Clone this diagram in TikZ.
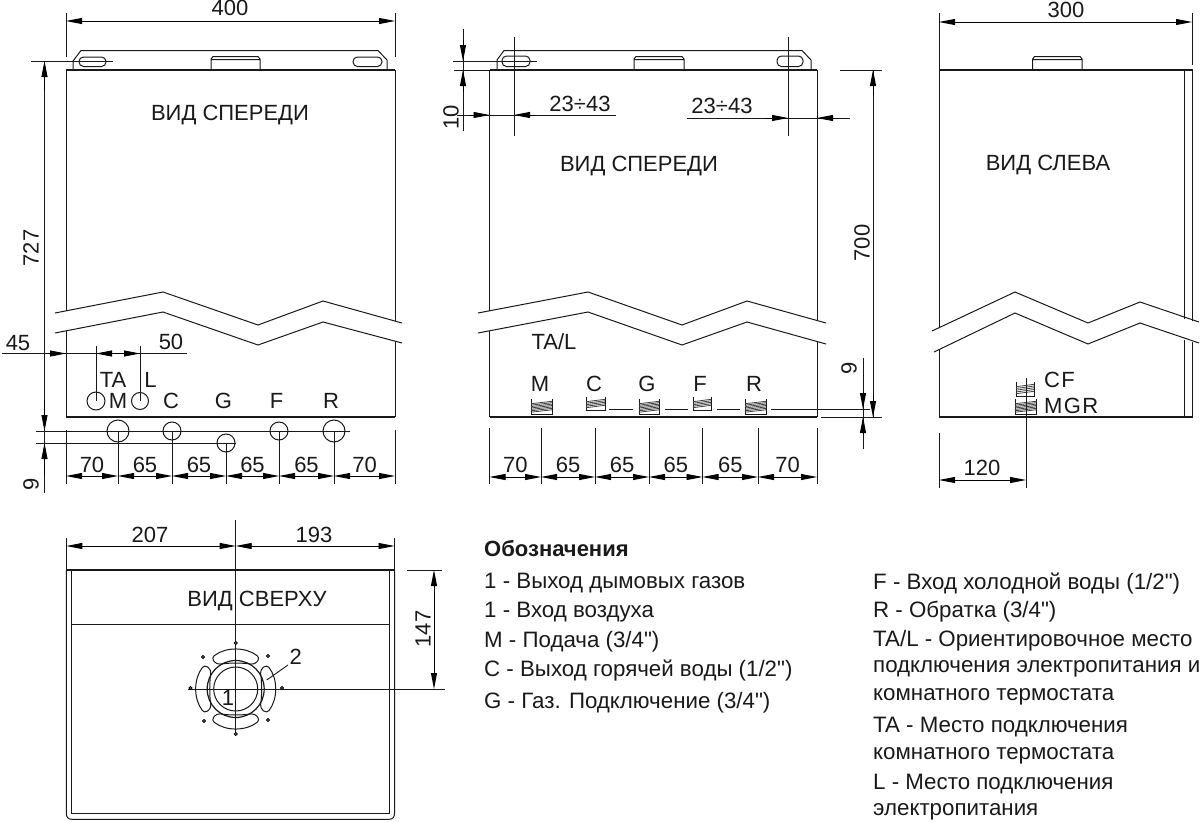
\documentclass[tikz,border=0pt]{standalone}
\usepackage{fontspec}
\setmainfont[Ligatures=TeXOff]{Liberation Sans}
\usetikzlibrary{arrows.meta}
\tikzset{
  x=1pt,y=-1pt,
  ln/.style={line width=1pt,black!90},
  thk/.style={line width=1.3pt,black!90},
  dim/.style={line width=0.9pt,black!90},
  tip/.style={-{Triangle[length=16pt,width=6pt]},line width=0.9pt,black},
  twotip/.style={{Triangle[length=16pt,width=6pt]}-{Triangle[length=16pt,width=6pt]},line width=0.9pt,black},
  lbl/.style={font=\fontsize{22}{22}\selectfont,inner sep=0pt,text=black!90},
  title/.style={font=\fontsize{22}{22}\selectfont,inner sep=0pt,anchor=base,text=black!90},
  leg/.style={font=\fontsize{22.3}{22.3}\selectfont,inner sep=0pt,anchor=base west,text=black!90},
}
\newcommand{\ftg}[5]{%
  \draw[ln] (#1,#3) -- (#1,#4) -- (#2,#4) -- (#2,#3);
  \foreach \k in {0,1,...,#5}{
    \pgfmathsetmacro{\yy}{#4-3.5-\k*(#4-#3-7)/#5}
    \draw[line width=0.8pt,black!75] (#1,\yy+1.2) -- (#2,\yy-1.2);
  }
}
\begin{document}
\begin{tikzpicture}
\useasboundingbox (0,0) rectangle (1200,822);
% ================== VIEW 1 ==================
\draw[thk] (66,70) -- (395,70);
\draw[ln] (66,70) -- (66,311) (395,70) -- (395,321);
\draw[ln] (66,331) -- (66,417) (395,341) -- (395,417);
\draw[thk] (66,417) -- (395,417);
\draw[ln] (55,313) -- (163,292) -- (258,325) -- (323,301) -- (402,323);
\draw[ln] (55,333) -- (163,312) -- (258,345) -- (323,322) -- (402,343);
\draw[ln] (73,70) -- (73,61) -- (81,50.5) -- (378,50.5) -- (387,60) -- (387,70);
\draw[ln,rounded corners=4.5pt] (79,57) rectangle (106,66.5);
\draw[ln,rounded corners=4.5pt] (353,57) rectangle (382,66.5);
\draw[ln] (211,70) -- (211,59) -- (213,56.5) -- (258,56.5) -- (260,59) -- (260,70) (211,59.5) -- (260,59.5);
% dim 400
\draw[dim] (66,13) -- (66,57) (395,13) -- (395,57);
\draw[twotip] (66,21) -- (395,21);
\node[lbl] (d400) at (230,8) {400};
% dim 727
\draw[dim] (31,61) -- (113,61);
\draw[dim] (44.5,61) -- (44.5,493);
\draw[tip] (44.5,90) -- (44.5,61);
\draw[tip] (44.5,400) -- (44.5,431);
\draw[tip] (44.5,475) -- (44.5,443);
\node[lbl,rotate=90] (d727) at (31,248) {727};
\node[lbl,rotate=90] (d9a) at (31,484) {9};
% circles
\draw[ln,fill=white] (118,431) circle (11);
\draw[ln,fill=white] (172,431) circle (9);
\draw[ln,fill=white] (226,443) circle (9);
\draw[ln,fill=white] (279,431) circle (9);
\draw[ln,fill=white] (334,431) circle (11);
\draw[dim] (36,431) -- (350,431) (36,443) -- (236,443);
\draw[ln] (96,401) circle (9) (140,401) circle (8.5);
% 45/50
\draw[dim] (2,353.5) -- (187,353.5);
\draw[dim] (96,346) -- (96,401) (140,346) -- (140,401);
\draw[tip] (45,353.5) -- (66,353.5);
\draw[tip] (118,353.5) -- (96,353.5);
\draw[tip] (118,353.5) -- (140,353.5);
\node[lbl] (d45) at (18,343) {45};
\node[lbl] (d50) at (171,342) {50};
\node[lbl] (lTA) at (113,380) {TA};
\node[lbl] (lL) at (150.5,380) {L};
\node[lbl] (lM) at (118,401) {M};
\node[lbl] (lC) at (171,401) {C};
\node[lbl] (lG) at (223.5,401) {G};
\node[lbl] (lF) at (276.5,401) {F};
\node[lbl] (lR) at (331,401) {R};
\node[title] (t1) at (230,120.5) {ВИД СПЕРЕДИ};
% bottom dims
\draw[dim] (66,430) -- (66,484) (395,430) -- (395,484);
\draw[dim] (118,431) -- (118,484) (172,431) -- (172,484) (226,443) -- (226,484) (279,431) -- (279,484) (334,431) -- (334,484);
\foreach \a/\b/\t in {66/118/70,118/172/65,172/226/65,226/279/65,279/334/65,334/395/70}{
  \pgfmathsetmacro{\m}{(\a+\b)/2}
  \draw[twotip] (\a,476) -- (\b,476);
  \node[lbl] at (\m,465) {\t};
}
% ================== VIEW 2 ==================
\draw[thk] (489.5,70) -- (817,70);
\draw[ln] (489.5,70) -- (489.5,311) (817,70) -- (817,321);
\draw[ln] (489.5,331) -- (489.5,417) (817,342) -- (817,417);
\draw[thk] (489.5,417) -- (817,417);
\draw[ln] (478,313) -- (588,292) -- (682,325) -- (747,301) -- (826,323);
\draw[ln] (478,333) -- (588,312) -- (682,345) -- (747,322) -- (826,344);
\draw[ln] (497,70) -- (497,60) -- (504,50.5) -- (802,50.5) -- (811,60) -- (811,70);
\draw[ln,rounded corners=4.5pt] (502,56) rectangle (530,66.5);
\draw[ln,rounded corners=4.5pt] (777,56) rectangle (803,66.5);
\draw[ln] (634,70) -- (634,59) -- (636,56.5) -- (682,56.5) -- (684,59) -- (684,70) (634,59.5) -- (684,59.5);
\draw[dim] (514,37) -- (514,136) (788,37) -- (788,136);
\draw[dim] (453,61) -- (537,61) (454,70) -- (489,70);
\draw[dim] (463,29) -- (463,131);
\draw[tip] (463,40) -- (463,61);
\draw[tip] (463,92) -- (463,70);
\node[lbl,rotate=90] (d10) at (451,117) {10};
\draw[dim] (457,115) -- (616,115);
\draw[tip] (470,115) -- (489.5,115);
\draw[tip] (535,115) -- (514,115);
\node[lbl] (d23a) at (580,104) {23÷43};
\draw[dim] (687,118) -- (850,118);
\draw[tip] (765,118) -- (788,118);
\draw[tip] (838,118) -- (817,118);
\node[lbl] (d23b) at (722,106) {23÷43};
\draw[dim] (840,70) -- (882,70) (821,417) -- (882,417);
\draw[dim] (873,70) -- (873,417);
\draw[tip] (873,95) -- (873,70);
\draw[tip] (873,395) -- (873,417);
\node[lbl,rotate=90] (d700) at (862,243) {700};
\draw[dim] (771,409) -- (870,409);
\draw[dim] (609,409) -- (633,409) (665,409) -- (688,409) (717,409) -- (740,409);
\draw[dim] (863,358) -- (863,449);
\draw[tip] (863,392) -- (863,409);
\draw[tip] (863,434) -- (863,417);
\node[lbl,rotate=90] (d9b) at (849,368) {9};
\ftg{531}{552}{399}{414.5}{6}
\ftg{586}{605}{397}{410}{4}
\ftg{639}{659}{399}{414.5}{6}
\ftg{693}{711}{397}{410}{4}
\ftg{745}{766}{399}{414.5}{6}
\node[lbl] (lTAL) at (554,342) {TA/L};
\node[lbl] (lM2) at (540,384) {M};
\node[lbl] (lC2) at (594,384) {C};
\node[lbl] (lG2) at (647,384) {G};
\node[lbl] (lF2) at (700,384) {F};
\node[lbl] (lR2) at (754,384) {R};
\node[title] (t2) at (639,171) {ВИД СПЕРЕДИ};
\draw[dim] (489.5,428) -- (489.5,484) (541,428) -- (541,484) (595,428) -- (595,484) (649,428) -- (649,484) (702.5,428) -- (702.5,484) (758,428) -- (758,484) (817,428) -- (817,484);
\foreach \a/\b/\t in {489.5/541/70,541/595/65,595/649/65,649/702.5/65,702.5/758/65,758/817/70}{
  \pgfmathsetmacro{\m}{(\a+\b)/2}
  \draw[twotip] (\a,477) -- (\b,477);
  \node[lbl] at (\m,465) {\t};
}
% ================== VIEW 3 ==================
\draw[thk] (939,70) -- (1192.5,70);
\draw[ln] (939,13) -- (939,328) (1192,13) -- (1192,65);
\draw[ln] (1184.7,70) -- (1184.7,319) (1192,70) -- (1192,321);
\draw[ln] (939,350) -- (939,417) (1184.7,340) -- (1184.7,417) (1192,342) -- (1192,417);
\draw[thk] (939,417) -- (1192.5,417);
\draw[ln] (932,331) -- (1015,292) -- (1088,323) -- (1140,302) -- (1199,322);
\draw[ln] (934,352) -- (1015,313) -- (1088,344) -- (1140,323) -- (1199,343);
\draw[ln] (1032.7,70) -- (1032.7,59) -- (1034.5,56.5) -- (1080,56.5) -- (1082,59) -- (1082,70) (1032.7,59.5) -- (1082,59.5);
\draw[twotip] (939,22) -- (1192,22);
\node[lbl] (d300) at (1066,10) {300};
\node[title] (t3) at (1048,170) {ВИД СЛЕВА};
\ftg{1016}{1034}{382}{396}{4}
\ftg{1015}{1036}{399}{414.5}{6}
\draw[dim] (1026,378) -- (1026,488) (939,433) -- (939,488);
\draw[twotip] (939,480) -- (1026,480);
\node[lbl] (d120) at (982,468) {120};
\node[lbl,anchor=west,font=\fontsize{22}{22}\selectfont\addfontfeature{LetterSpace=6}] (lCF) at (1044,380) {CF};
\node[lbl,anchor=west,font=\fontsize{22}{22}\selectfont\addfontfeature{LetterSpace=6}] (lMGR) at (1044,406) {MGR};
% ================== TOP VIEW ==================
\draw[thk] (66.3,570) -- (394.5,570);
\draw[ln] (66.3,570) -- (66.3,813) .. controls (66.3,817) and (68,819.3) .. (72,819.3) -- (389,819.3) .. controls (393,819.3) and (394.5,817) .. (394.5,813) -- (394.5,570);
\draw[ln] (71.3,570) -- (71.3,813.3) -- (389.3,813.3) -- (389.3,570);
\draw[ln] (71.3,624.3) -- (389.3,624.3);
\node[title] (t4) at (257,606) {ВИД СВЕРХУ};
\draw[dim] (235.7,520) -- (235.7,735);
\draw[dim] (187.7,689) -- (445,689);
\draw[dim] (66.3,538) -- (66.3,570) (394.5,538) -- (394.5,570);
\draw[twotip] (66.3,546) -- (235.7,546);
\draw[twotip] (235.7,546) -- (394.5,546);
\node[lbl] (d207) at (150,535) {207};
\node[lbl] (d193) at (314,535) {193};
\draw[dim] (407,570) -- (442,570);
\draw[twotip] (434,570) -- (434,689);
\node[lbl,rotate=90] (d147) at (423,629) {147};
% burner
\begin{scope}[shift={(235.7,689)}]
\draw[ln] (0,0) circle (22);
\draw[line width=1.2pt,black!90] (0,0) circle (28.5);
\foreach \a in {0,90,180,270}{
  \draw[ln,rounded corners=3.5pt] (\a-38:39.5pt) arc[start angle=\a-38,delta angle=76,radius=39.5pt] -- (\a+38:31pt) .. controls (\a+13:27pt) and (\a-13:27pt) .. (\a-38:31pt) -- cycle;
}
\end{scope}
\foreach \p/\q in {235.7/643,282/688,190.5/688,235.7/734,203/657,268/656,204/721,268/720}{
  \draw[line width=0.7pt,fill=black!60] (\p,\q) circle (1.6);
}
\node[lbl] (l1) at (228,698) {1};
\node[lbl] (l2) at (295.7,656.7) {2};
\draw[dim] (288,665) -- (266.7,680);
% ================== LEGEND ==================
\node[leg,font=\fontsize{22}{22}\selectfont\bfseries] (lg0) at (484,556) {Обозначения};
\node[leg] (lg1) at (484,588) {1 - Выход дымовых газов};
\node[leg] (lg2) at (484,617) {1 - Вход воздуха};
\node[leg] (lg3) at (484,647) {M - Подача (3/4")};
\node[leg] (lg4) at (484,676) {C - Выход горячей воды (1/2")};
\node[leg] (lg5) at (484,708) {G - Газ. Подключение (3/4")};
\node[leg] (lg6) at (873,589) {F - Вход холодной воды (1/2")};
\node[leg] (lg7) at (873,617) {R - Обратка (3/4")};
\node[leg] (lg8) at (873,646) {TA/L - Ориентировочное место};
\node[leg] (lg9) at (873,672) {подключения электропитания и};
\node[leg] (lg10) at (873,700) {комнатного термостата};
\node[leg] (lg11) at (873,732) {TA - Место подключения};
\node[leg] (lg12) at (873,759) {комнатного термостата};
\node[leg] (lg13) at (873,789) {L - Место подключения};
\node[leg] (lg14) at (873,815) {электропитания};
\end{tikzpicture}
\end{document}
